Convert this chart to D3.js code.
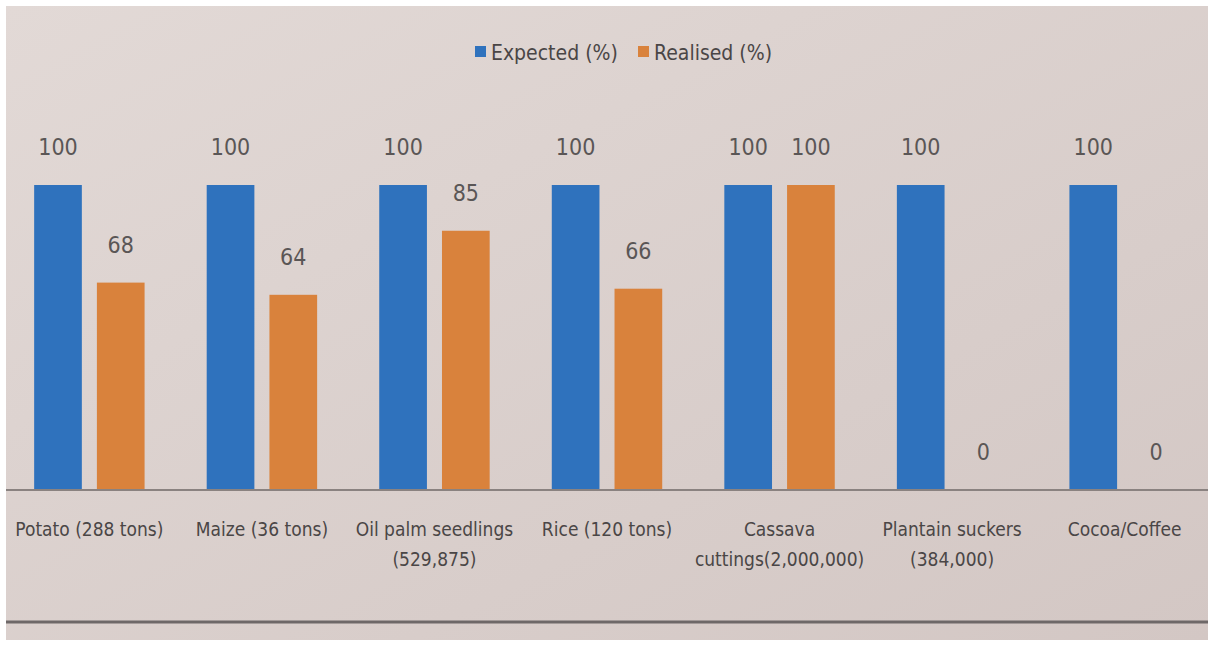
<!DOCTYPE html>
<html>
<head>
<meta charset="utf-8">
<script src="https://cdn.jsdelivr.net/npm/d3@7"></script>
<style>
  body { margin: 0; background: #fff; }
  svg { display: block; font-family: "DejaVu Sans Condensed", "DejaVu Sans", sans-serif; font-stretch: condensed; }
</style>
</head>
<body>
<div class="chart"></div>
<script>
const categories = [
  ["Potato (288 tons)"],
  ["Maize (36 tons)"],
  ["Oil palm seedlings", "(529,875)"],
  ["Rice (120 tons)"],
  ["Cassava", "cuttings(2,000,000)"],
  ["Plantain suckers", "(384,000)"],
  ["Cocoa/Coffee"]
];
const expected = [100, 100, 100, 100, 100, 100, 100];
const realised = [68, 64, 85, 66, 100, 0, 0];
const seriesNames = ["Expected (%)", "Realised (%)"];
const colors = ["#2f72bd", "#d9823c"];

const width = 1212, height = 646;
const svg = d3.select('.chart').append('svg')
  .attr('width', width).attr('height', height);

// paper background
const grad = svg.append('defs').append('linearGradient')
  .attr('id', 'bg').attr('x1', 0).attr('x2', 1).attr('y1', 0).attr('y2', 1);
grad.append('stop').attr('offset', '0%').attr('stop-color', '#e2d9d6');
grad.append('stop').attr('offset', '100%').attr('stop-color', '#d3c7c4');
svg.append('rect').attr('x', 6).attr('y', 6)
  .attr('width', width - 10).attr('height', height - 12)
  .attr('fill', 'url(#bg)');

const margin = {left: 10, right: 8, top: 185, bottom: 156};
const baseY = height - margin.bottom;

const x0 = d3.scaleBand()
  .domain(categories.map((d, i) => i))
  .range([margin.left, width - margin.right])
  .paddingInner(0.36).paddingOuter(0.14);
const x1 = d3.scaleBand()
  .domain([0, 1])
  .range([0, x0.bandwidth()])
  .paddingInner(0.24);
const y = d3.scaleLinear().domain([0, 100]).range([baseY, margin.top]);

const rows = categories.map((c, i) => [expected[i], realised[i]]);

const groups = svg.selectAll('g.grp')
  .data(rows)
  .enter()
  .append('g')
  .attr('class', 'grp')
  .attr('transform', (d, i) => `translate(${x0(i)},0)`);

groups.selectAll('rect')
  .data(d => d)
  .enter()
  .append('rect')
  .attr('x', (d, j) => x1(j))
  .attr('y', d => y(d))
  .attr('width', x1.bandwidth())
  .attr('height', d => baseY - y(d))
  .attr('fill', (d, j) => colors[j]);

groups.selectAll('text')
  .data(d => d)
  .enter()
  .append('text')
  .attr('x', (d, j) => x1(j) + x1.bandwidth() / 2)
  .attr('y', d => y(d) - 30)
  .attr('text-anchor', 'middle')
  .attr('font-size', 23)
  .attr('fill', '#5a5656')
  .text(d => d);

// axis line
svg.append('line')
  .attr('x1', 6).attr('x2', width - 4)
  .attr('y1', baseY).attr('y2', baseY)
  .attr('stroke', '#8a8280').attr('stroke-width', 2);

// category labels
const lab = svg.selectAll('text.cat')
  .data(categories)
  .enter()
  .append('text')
  .attr('class', 'cat')
  .attr('text-anchor', 'middle')
  .attr('font-size', 19)
  .attr('fill', '#4a4646')
  .attr('x', (d, i) => x0(i) + x0.bandwidth() / 2)
  .attr('y', baseY + 46);
lab.selectAll('tspan')
  .data(d => d)
  .enter()
  .append('tspan')
  .attr('x', function () { return d3.select(this.parentNode).attr('x'); })
  .attr('dy', (d, k) => k === 0 ? 0 : 30)
  .text(d => d);

// bottom rule
svg.append('line')
  .attr('x1', 6).attr('x2', width - 4)
  .attr('y1', 622).attr('y2', 622)
  .attr('stroke', '#6e6868').attr('stroke-width', 3);

// legend
const legend = svg.selectAll('g.leg')
  .data(seriesNames)
  .enter()
  .append('g')
  .attr('class', 'leg')
  .attr('transform', (d, i) => `translate(${475 + i * 163},60)`);
legend.append('rect')
  .attr('x', 0).attr('y', -14).attr('width', 11).attr('height', 11)
  .attr('fill', (d, i) => colors[i]);
legend.append('text')
  .attr('x', 16).attr('y', 0)
  .attr('font-size', 21)
  .attr('fill', '#4a4646')
  .text(d => d);
</script>
</body>
</html>
